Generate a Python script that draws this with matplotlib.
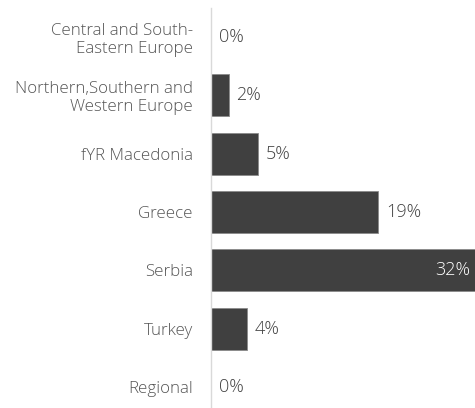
import matplotlib.pyplot as plt

categories = ['Central and South-\nEastern Europe', 'Northern,Southern and\nWestern Europe',
              'fYR Macedonia', 'Greece', 'Serbia', 'Turkey', 'Regional']
values = [0, 2, 5.3, 19, 32, 4.1, 0]
labels = ['0%', '2%', '5%', '19%', '32%', '4%', '0%']

plt.rcParams['font.family'] = ['Open Sans', 'DejaVu Sans']
plt.rcParams['font.weight'] = 'light'

fig = plt.figure(figsize=(4.75, 4.08), dpi=100)
ax = fig.add_axes([211 / 475, 0, 1 - 211 / 475, 1 - 8 / 408])

y = list(range(len(categories)))
ax.barh(y, values, height=0.72, color='#404040', edgecolor='#8a8a8a', linewidth=0.6)

xmax = 30
ax.set_xlim(0, xmax)
ax.set_ylim(6.36, -0.5)

for yi, v, lab in zip(y, values, labels):
    if v > xmax:
        ax.text(xmax - 0.5, yi, lab, ha='right', va='center', color='white', fontsize=13)
    else:
        ax.text(v + 0.9, yi, lab, ha='left', va='center', color='#404040', fontsize=13)

ax.set_yticks(y)
ax.set_yticklabels(categories, fontsize=12.2, color='#555555', linespacing=1.15)
ax.tick_params(axis='y', length=0, pad=13)
ax.set_xticks([])
for s in ['top', 'right', 'bottom']:
    ax.spines[s].set_visible(False)
ax.spines['left'].set_color('#d9d9d9')
ax.spines['left'].set_linewidth(1)

fig.savefig('out.png', dpi=100)
